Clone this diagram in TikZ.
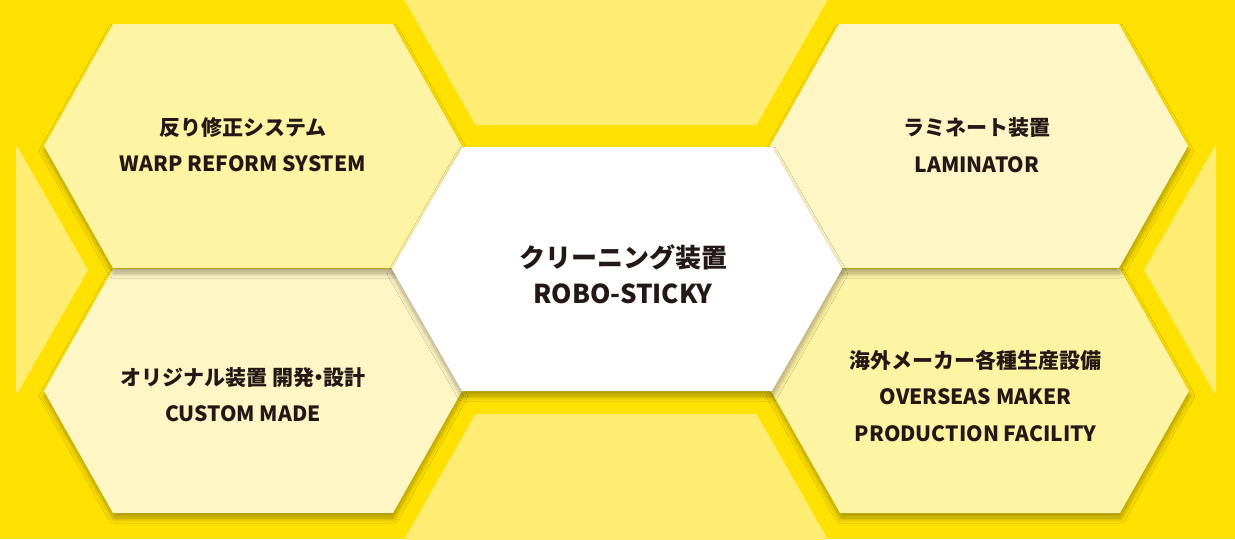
\documentclass[tikz,border=0pt]{standalone}
\usepackage{fontspec}
\setmainfont{Noto Sans CJK JP}
\usetikzlibrary{shadows.blur}
\definecolor{hiveYellow}{HTML}{FFE100}
\definecolor{hiveLight}{HTML}{FFEC72}
\definecolor{hiveWarm}{HTML}{FFF3A4}
\definecolor{hivePale}{HTML}{FFF6C6}
\definecolor{hiveInk}{HTML}{231815}
% #1,#2 centre, #3 half of flat side, #4 half width, #5 half height, #6 style
\newcommand{\hexfill}[6]{%
  \fill[#6] (#1-#4,#2) -- (#1-#3,#2-#5) -- (#1+#3,#2-#5) -- (#1+#4,#2)
    -- (#1+#3,#2+#5) -- (#1-#3,#2+#5) -- cycle;}

\begin{document}
\begin{tikzpicture}[x=1pt,y=-1pt,
    hexshadow/.style={blur shadow={shadow blur steps=14, shadow blur radius=5pt,
      shadow xshift=0.5pt, shadow yshift=-5pt, shadow opacity=34}},
    hextext/.style={text=hiveInk, align=center, inner sep=0pt,
      font=\bfseries\fontsize{21}{36.5}\selectfont},
    bigtext/.style={hextext, font=\bfseries\fontsize{26}{36}\selectfont}]
	\fill[hiveYellow] (0,0) rectangle (1235,539);
	\begin{scope}
		\clip (16,0) rectangle (1216,539);
		\foreach \cx/\cy/\h in {616/1/124, 616/538/124, -123/270/123, 1355/270/123}
		{\hexfill{\cx}{\cy}{140.5}{211}{\h}{fill=hiveLight}}
	\end{scope}
	\foreach \cx/\cy/\tone in {253/391/hivePale, 980/391/hiveWarm, 253/146/hiveWarm, 979/146/hivePale}
	{\hexfill{\cx}{\cy}{140}{209}{122}{fill=\tone, hexshadow}}
	\hexfill{617}{269}{155}{225}{122}{fill=white, hexshadow}
	\node[bigtext] (robo) at (623,274) {クリーニング装置\\ROBO-STICKY};
	\node[hextext] (warp) at (243,144.5) {反り修正システム\\WARP REFORM SYSTEM};
	\node[hextext] (laminator) at (977,145) {ラミネート装置\\LAMINATOR};
	\node[hextext] (custom) at (243,394.5) {オリジナル装置 開発\kern-.3em・\kern-.3em設計\\CUSTOM MADE};
	\node[hextext] (overseas) at (975.5,396) {海外メーカー各種生産設備\\OVERSEAS MAKER\\PRODUCTION FACILITY};
\end{tikzpicture}
\end{document}
